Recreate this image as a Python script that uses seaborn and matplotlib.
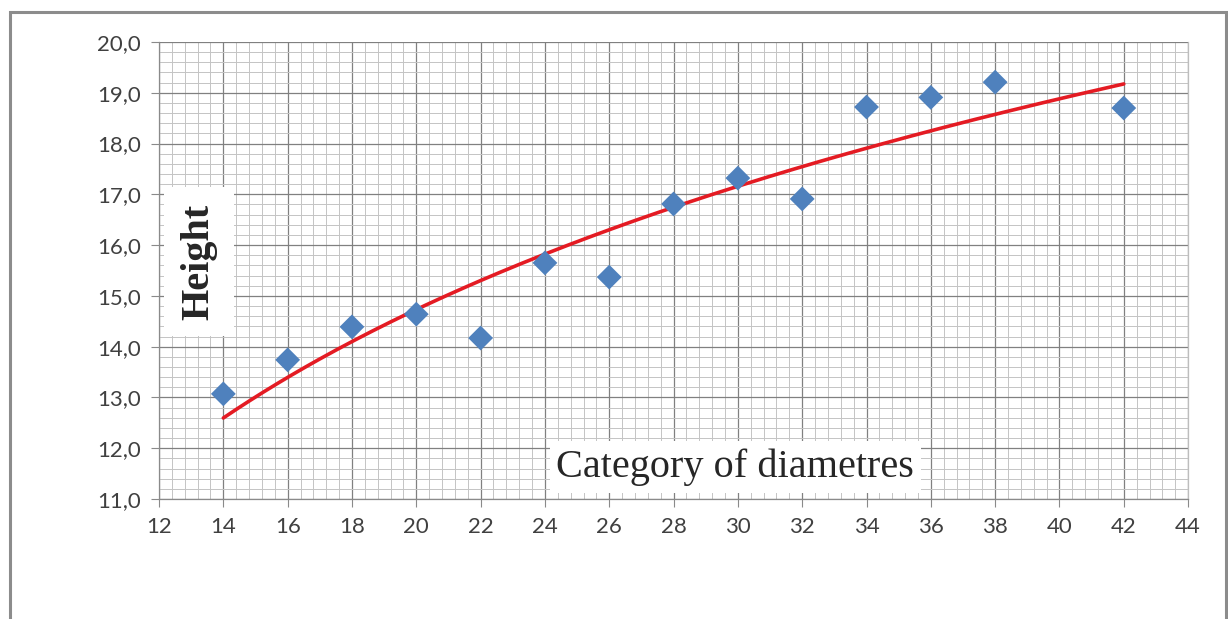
import numpy as np
import pandas as pd
import matplotlib.pyplot as plt
import seaborn as sns
from matplotlib.patches import Rectangle
from matplotlib.ticker import MultipleLocator, FuncFormatter

# Data
diameter = [14, 16, 18, 20, 22, 24, 26, 28, 30, 32, 34, 36, 38, 42]
height = [13.07, 13.74, 14.39, 14.64, 14.17, 15.65, 15.37, 16.81, 17.32, 16.91,
          18.72, 18.91, 19.21, 18.70]

df = pd.DataFrame({"d": diameter, "h": height})

# logarithmic trend line (Excel style) fitted on the points
a, b = np.polyfit(np.log(df["d"]), df["h"], 1)
trend_x = np.linspace(min(diameter), max(diameter), 200)
trend = pd.DataFrame({"d": trend_x, "h": a * np.log(trend_x) + b})

sns.set_style("white")
plt.rcParams['font.family'] = ['Lato', 'DejaVu Sans']

fig = plt.figure(figsize=(12.28, 6.19), dpi=100)
ax = fig.add_axes([0.1295, 0.1939, 0.838, 0.7382])

# outer chart border
fig.patches.append(Rectangle((10 / 1228, -0.05), 1216 / 1228, 1 - 12 / 619 + 0.05,
                             transform=fig.transFigure, fill=False,
                             edgecolor='#8c8c8c', linewidth=2.2))

ax.set_xlim(12, 44)
ax.set_ylim(11, 20)
ax.xaxis.set_major_locator(MultipleLocator(2))
ax.xaxis.set_minor_locator(MultipleLocator(0.4))
ax.yaxis.set_major_locator(MultipleLocator(1))
ax.yaxis.set_minor_locator(MultipleLocator(0.2))
ax.yaxis.set_major_formatter(FuncFormatter(lambda v, p: f"{v:.1f}".replace('.', ',')))

ax.grid(which='minor', color='#c4c4c4', linewidth=0.7)
ax.grid(which='major', color='#808080', linewidth=0.9)
ax.set_axisbelow(True)

for s in ax.spines.values():
    s.set_color('#8a8a8a')
    s.set_linewidth(0.9)
ax.spines['top'].set_visible(False)
ax.spines['right'].set_color('#bdbdbd')

ax.tick_params(which='major', direction='out', length=6, color='#8a8a8a',
               labelsize=16, labelcolor='#404040', pad=7, bottom=True, left=True)
ax.tick_params(which='minor', length=0)

sns.lineplot(data=trend, x="d", y="h", ax=ax, color='#e41b23', linewidth=2.6, zorder=3)
sns.scatterplot(data=df, x="d", y="h", ax=ax, marker='D', s=160, color='#4f81bd',
                edgecolor='none', zorder=4)

ax.set_xlabel("")
ax.set_ylabel("")

ax.text(0.0385, 0.519, "Height", transform=ax.transAxes, rotation=90,
        family='Liberation Serif', fontweight='bold', fontsize=29,
        ha='center', va='center',
        bbox=dict(facecolor='white', edgecolor='none', pad=12))
ax.text(0.56, 0.070, "Category of diametres", transform=ax.transAxes,
        family='Liberation Serif', fontsize=29, ha='center', va='center',
        bbox=dict(facecolor='white', edgecolor='none', pad=5))

fig.savefig("out.png", dpi=100)
